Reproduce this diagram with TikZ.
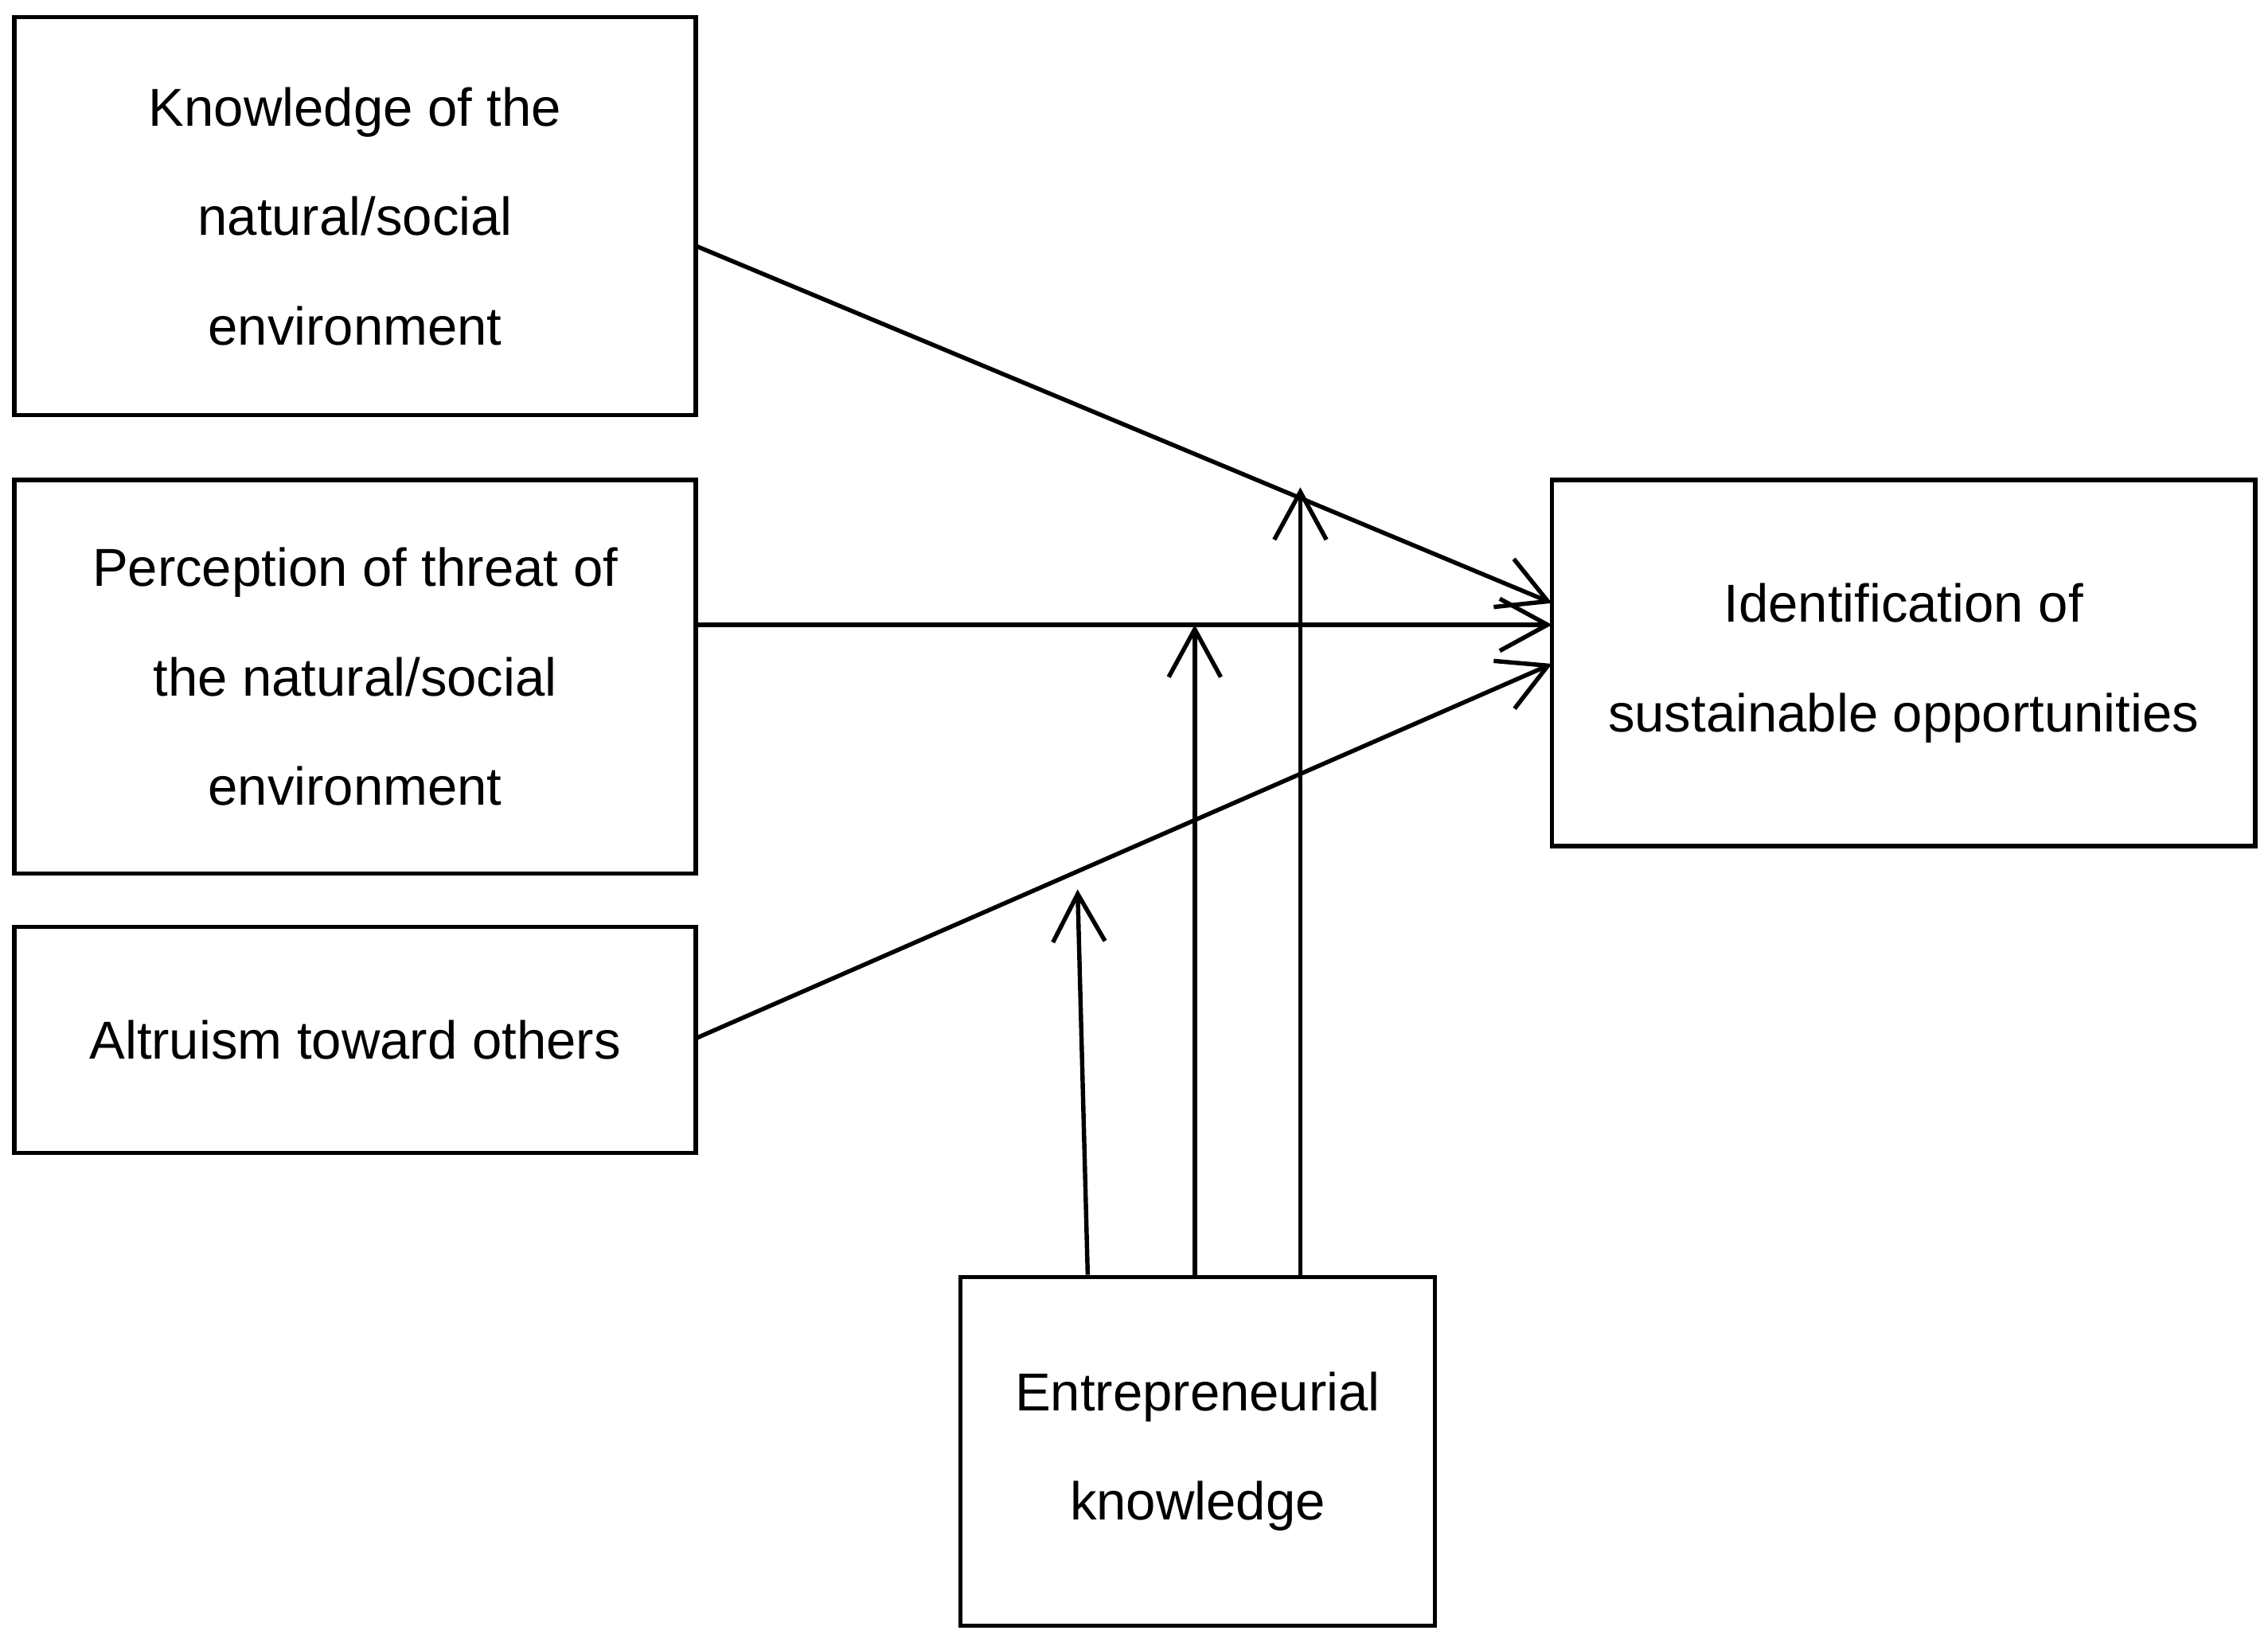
\documentclass[tikz,border=0pt]{standalone}
\usepackage{fontspec}
\setmainfont{Liberation Sans}
\usetikzlibrary{arrows.meta}
\begin{document}
\begin{tikzpicture}[x=0.01cm,y=-0.01cm,line width=0.85pt,
  >={Straight Barb[length=0.33cm,width=0.36cm,line width=0.85pt]},
  box/.style={draw,align=center,font=\fontsize{10.5}{21.5}\selectfont,inner sep=0pt}]
\useasboundingbox (0,0) rectangle (1568,1138);

% boxes
\node[box,minimum width=4.71cm,minimum height=2.75cm] (know) at (245.5,149.5) {Knowledge of the\\natural/social\\environment};
\node[box,minimum width=4.71cm,minimum height=2.72cm] (threat) at (245.5,468) {Perception of threat of\\the natural/social\\environment};
\node[box,minimum width=4.71cm,minimum height=1.56cm] (altru) at (245.5,719) {Altruism toward others};
\node[box,minimum width=4.86cm,minimum height=2.53cm] (ident) at (1316,458.5) {Identification of\\sustainable opportunities};
\node[box,minimum width=3.28cm,minimum height=2.41cm] (entre) at (828,1003.5) {Entrepreneurial\\knowledge};

% end points
\coordinate (kout) at (481,170);
\coordinate (kin) at (1073,417);
\coordinate (tout) at (481,432);
\coordinate (tin) at (1073,432);
\coordinate (aout) at (481,718);
\coordinate (ain) at (1073,459);
\coordinate (m1) at (745,615);
\coordinate (m2) at (826,432);
\coordinate (m3) at (899,337);

% main paths
\draw[->] (kout) -- (kin);
\draw[->] (tout) -- (tin);
\draw[->] (aout) -- (ain);

% moderation
\draw[->] (entre.north -| 752,0) -- (m1);
\draw[->] (entre.north -| m2) -- (m2);
\draw[->] (entre.north -| m3) -- (m3);
\end{tikzpicture}
\end{document}
